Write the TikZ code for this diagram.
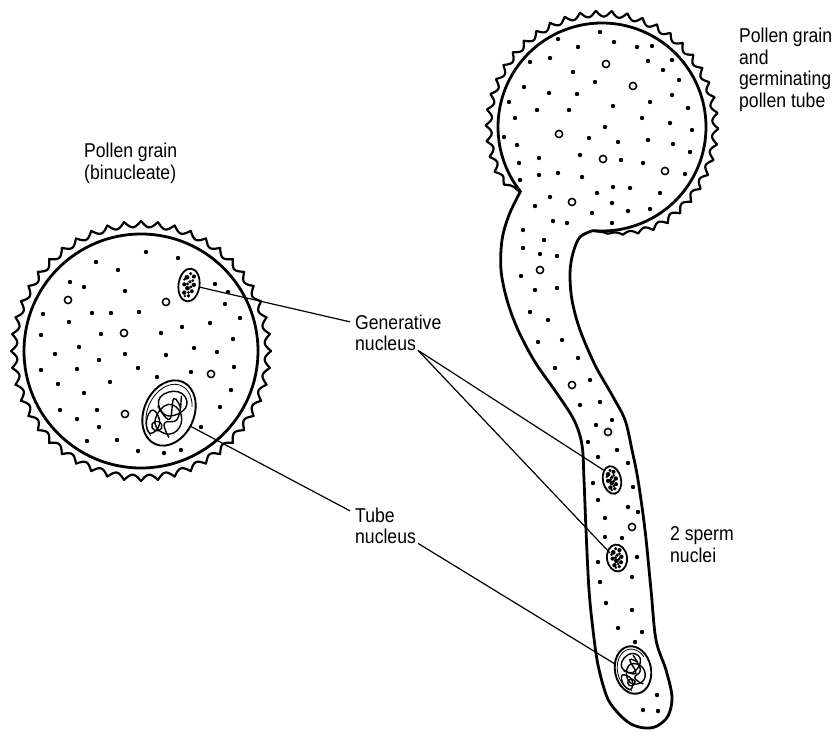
\documentclass[tikz,border=0pt]{standalone}
\usepackage{fontspec}
\setmainfont{Liberation Sans}[FakeStretch=0.88]
\usetikzlibrary{calc}

% speckled (generative / sperm) nucleus: centre x, centre y, x radius, y radius, tilt
\newcommand\specknuc[5]{%
  \begin{scope}[shift={(#1,#2)},rotate=#5]
    \draw[line width=1.8pt,fill=white] (0,0) ellipse [x radius=#3, y radius=#4];
    \foreach \a/\b/\r in {0.35/-0.55/2.1, -0.3/-0.45/2.4, 0.05/-0.2/1.9, 0.45/-0.05/2.2,
        -0.45/0.0/2.1, -0.1/0.2/2.4, 0.35/0.35/2.0, -0.35/0.5/2.2, 0.1/0.65/1.9,
        0.0/-0.7/1.7, -0.15/-0.05/1.6, 0.2/0.1/1.6, 0.3/-0.3/1.5, -0.5/-0.3/1.4,
        0.05/0.45/1.5, -0.25/0.7/1.3}
      \fill ({\a*#3},{\b*#4}) circle [radius=\r];
  \end{scope}}

% tube (vegetative) nucleus with tangled chromatin
\newcommand\tubenuc[5]{%
  \begin{scope}[shift={(#1,#2)},rotate=#5]
    \draw[line width=1.9pt,fill=white] (0,0) ellipse [x radius=#3, y radius=#4];
    \draw[line width=0.8pt] plot[domain=110:330, samples=40] ({0.86*#3*cos(\x)},{0.88*#4*sin(\x)});
    \begin{scope}[xscale=1.15*#3, yscale=1.1*#4, line width=1.4pt]
      \draw plot[smooth cycle, tension=0.8] coordinates {(-0.5,-0.3) (0.0,-0.62) (0.45,-0.4) (0.2,0.0) (-0.25,0.05)};
      \draw plot[smooth cycle, tension=0.8] coordinates {(-0.15,-0.2) (0.4,-0.1) (0.5,0.35) (0.05,0.55) (-0.35,0.3)};
      \draw plot[smooth cycle, tension=0.8] coordinates {(-0.55,0.1) (-0.15,0.35) (-0.3,0.7) (-0.6,0.45)};
      \draw plot[smooth, tension=0.8] coordinates {(0.15,-0.55) (0.35,0.05) (0.0,0.3) (0.35,0.6)};
      \draw plot[smooth, tension=0.8] coordinates {(-0.45,-0.05) (0.1,0.15) (-0.05,-0.4) (0.3,-0.25)};
      \draw (-0.2,0.45) circle [x radius=0.18, y radius=0.13];
    \end{scope}
  \end{scope}}

\begin{document}
\begin{tikzpicture}[x=1pt,y=-1pt,
  declare function={rr(\t)=104+min(1,(\t-141.7)/10,(455-\t)/35)*(12.5-6*abs(sin(23*(\t-141.7))));},
  lbl/.style={font=\fontsize{20}{21.5}\selectfont, align=left, inner sep=0pt, anchor=base west},
  leader/.style={line width=1.2pt},
  wall/.style={line width=2.8pt, line join=round},
  exine/.style={line width=2.2pt, line join=round},
  ring/.style={line width=1.5pt}
]
\useasboundingbox (0,0) rectangle (837,731);

% ---------- binucleate pollen grain ----------
\draw[exine] plot[domain=0:360, samples=961]
  ({141+(130-6*abs(sin(24*\x)))*cos(\x)}, {351+(130-6*abs(sin(24*\x)))*sin(\x)}) -- cycle;
\draw[wall] (141,351) circle [radius=117];

\foreach \px/\py in {84/287, 125/291, 215/284, 225/304, 43/314, 92/313, 111/313, 139/312,
    69/322, 210/323, 240/318, 182/327, 41/335, 101/334, 161/333, 233/339, 79/347, 194/348,
    217/352, 55/354, 125/354, 166/355, 99/360, 138/368, 234/367, 41/370, 77/369, 191/372,
    157/377, 58/384, 110/382, 231/390, 84/393, 60/410, 97/410, 220/407, 77/419, 99/427,
    201/427, 87/441, 117/440, 138/451, 164/453, 181/450, 96/262, 146/252, 178/258, 70/282,
    228/292, 118/270}
  \fill (\px,\py) circle [radius=2.2];
\foreach \px/\py in {68/300, 166/302, 124/333, 211/374, 125/414}
  \draw[ring] (\px,\py) circle [radius=3.6];

\specknuc{189}{285}{10.5}{16.5}{-8}
\tubenuc{169}{413}{25}{34}{-24}

% ---------- germinating pollen grain and tube ----------
\draw[exine] plot[domain=141.7:455, samples=900] ({602+rr(\x)*cos(\x)}, {127+rr(\x)*sin(\x)});
\draw[wall] plot[smooth, tension=0.55] coordinates {(593,230.6) (580,237) (573,253) (570,273)
    (572,300) (580,330) (595,365) (612,395) (625,420) (632,450) (638,480) (645,530) (651,590)
    (656,640) (666,670) (672,697) (668,716) (657,726) (645,728) (631,724) (618,713) (607,697)
    (598,665) (593,630) (589,590) (586,530) (584,480) (582,445) (574,420) (556,392) (535,362)
    (518,330) (507,300) (501,270) (502,240) (509,215) (520.4,191.5)}
  -- plot[domain=141.7:455, samples=200] ({602+104*cos(\x)}, {127+104*sin(\x)});

\foreach \px/\py in {600/32, 558/39, 578/47, 614/42, 637/47, 652/46, 530/62, 550/58, 648/61,
    672/60, 573/72, 663/70, 524/87, 549/93, 577/94, 595/82, 679/80, 672/95, 509/102, 537/110,
    569/110, 613/106, 650/102, 688/108, 515/118, 605/127, 642/118, 670/123, 504/137, 589/138,
    618/142, 648/140, 673/144, 692/130, 517/145, 690/152, 539/158, 580/155, 621/160, 643/163,
    519/163, 685/174, 539/175, 558/173, 582/177, 520/180, 613/187, 630/188, 660/193, 550/197,
    597/193, 535/206, 592/213, 612/203, 628/211, 650/209, 553/221, 567/223, 612/223, 523/230,
    544/240, 523/248, 540/254, 557/256, 521/276, 535/290, 557/288,
    530/312, 548/320, 538/342, 562/340, 555/368, 578/358, 590/380, 580/405, 600/402, 596/425,
    612/420, 588/442, 598/457, 617/450, 628/463, 593/483, 633/487, 598/500, 628/507, 638/512,
    605/518, 605/537, 622/538, 598/562, 637/557, 632/577, 600/582, 606/603, 632/610, 618/628,
    642/632, 635/642, 657/695, 643/710, 658/711}
  \fill (\px,\py) circle [radius=2.2];
\foreach \px/\py in {606/64, 633/86, 559/134, 603/159, 665/171, 572/202, 540/270, 572/385,
    608/432, 632/527}
  \draw[ring] (\px,\py) circle [radius=3.6];

\specknuc{612}{480}{9}{14}{12}
\specknuc{617}{558}{10}{13.5}{8}
\tubenuc{633}{670}{18}{24}{12}

% ---------- labels ----------
\node[lbl] (grainL) at (84,179) {Pollen grain\\(binucleate)};
\node[lbl] (genA) at (355,329) {Generative};
\node[lbl] (genB) at (355,350) {nucleus};
\node[lbl] (tubeA) at (355,522) {Tube};
\node[lbl] (tubeB) at (355,543) {nucleus};
\node[lbl] (grainR) at (739,107) {Pollen grain\\and\\germinating\\pollen tube};
\node[lbl] (sperm) at (670,562) {2 sperm\\nuclei};

% ---------- leader lines ----------
\coordinate (genL) at (199,287);
\coordinate (tubL) at (190,426);
\coordinate (sp1) at (605,471);
\coordinate (sp2) at (610,553);
\coordinate (tubR) at (615,664);

\draw[leader] (genL) -- ([xshift=-5pt]genA.west);
\draw[leader] (tubL) -- ([xshift=-5pt,yshift=4pt]tubeA.west);
\draw[leader] ([xshift=2pt]genB.south east) -- (sp1);
\draw[leader] ([xshift=2pt]genB.south east) -- (sp2);
\draw[leader] ([xshift=2pt]tubeB.south east) -- (tubR);
\end{tikzpicture}
\end{document}
